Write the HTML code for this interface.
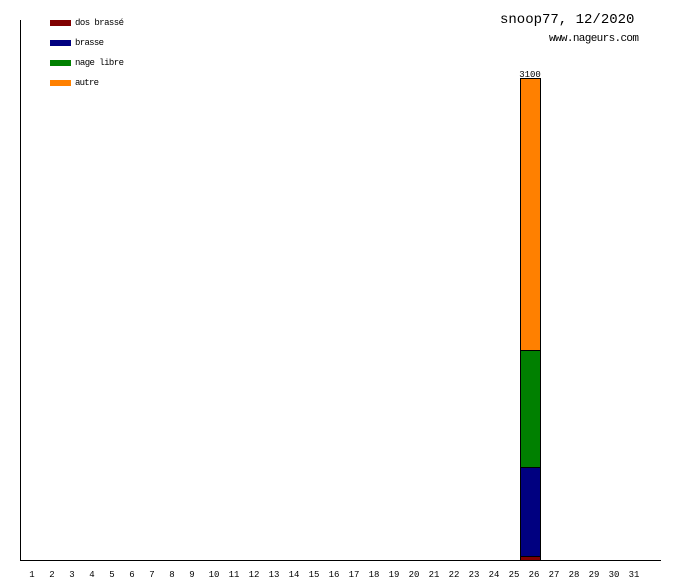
<!DOCTYPE html><html><head><style>body{margin:0;background:#fff}</style></head><body>
<svg width="680" height="580" xmlns="http://www.w3.org/2000/svg" style="display:block">
<rect width="680" height="580" fill="#fff"/>
<line x1="20.5" y1="20" x2="20.5" y2="560" stroke="#000"/>
<line x1="20" y1="560.5" x2="661" y2="560.5" stroke="#000"/>
<g font-family="Liberation Mono, DejaVu Sans Mono, monospace" font-size="9" fill="#000">
<rect x="50" y="20" width="21" height="6" fill="#800000"/><text x="75" y="25" textLength="49">dos brassé</text>
<rect x="50" y="40" width="21" height="6" fill="#000080"/><text x="75" y="45" textLength="29">brasse</text>
<rect x="50" y="60" width="21" height="6" fill="#008000"/><text x="75" y="65" textLength="49">nage libre</text>
<rect x="50" y="80" width="21" height="6" fill="#ff8000"/><text x="75" y="85" textLength="24">autre</text>
</g>
<text x="500" y="23" font-family="Liberation Mono, monospace" font-size="14">snoop77, 12/2020</text>
<text x="549" y="41" font-family="Liberation Mono, monospace" font-size="11" textLength="90">www.nageurs.com</text>
<g stroke="#000" stroke-width="1">
<rect x="520.5" y="78.5" width="20" height="272" fill="#ff8000"/>
<rect x="520.5" y="350.5" width="20" height="117" fill="#008000"/>
<rect x="520.5" y="467.5" width="20" height="89" fill="#000080"/>
<rect x="520.5" y="556.5" width="20" height="4" fill="#800000"/>
</g>
<text x="530" y="77" text-anchor="middle" font-family="Liberation Mono, monospace" font-size="9">3100</text>
<g font-family="Liberation Mono, monospace" font-size="9" text-anchor="middle">
<text x="32" y="577">1</text><text x="52" y="577">2</text><text x="72" y="577">3</text><text x="92" y="577">4</text><text x="112" y="577">5</text><text x="132" y="577">6</text><text x="152" y="577">7</text><text x="172" y="577">8</text><text x="192" y="577">9</text><text x="214" y="577">10</text><text x="234" y="577">11</text><text x="254" y="577">12</text><text x="274" y="577">13</text><text x="294" y="577">14</text><text x="314" y="577">15</text><text x="334" y="577">16</text><text x="354" y="577">17</text><text x="374" y="577">18</text><text x="394" y="577">19</text><text x="414" y="577">20</text><text x="434" y="577">21</text><text x="454" y="577">22</text><text x="474" y="577">23</text><text x="494" y="577">24</text><text x="514" y="577">25</text><text x="534" y="577">26</text><text x="554" y="577">27</text><text x="574" y="577">28</text><text x="594" y="577">29</text><text x="614" y="577">30</text><text x="634" y="577">31</text>
</g>
</svg>
</body></html>
